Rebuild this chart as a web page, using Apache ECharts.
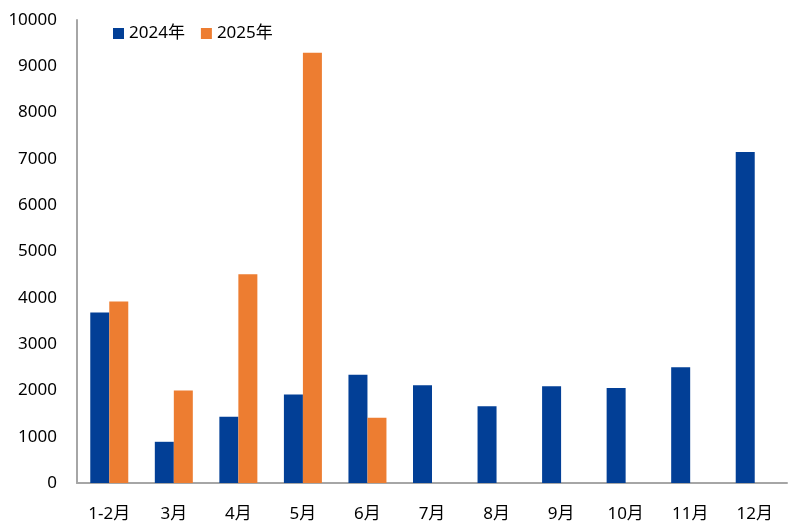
<!DOCTYPE html>
<html><head><meta charset="utf-8">
<script src="https://cdn.jsdelivr.net/npm/echarts@6/dist/echarts.min.js"></script>
<style>html,body{margin:0;padding:0;background:#fff}#c{width:797px;height:532px}</style>
</head><body><div id="c"></div>
<script>
const categories = ['1-2月','3月','4月','5月','6月','7月','8月','9月','10月','11月','12月'];
const seriesNames = ['2024年','2025年'];
const values2024 = [3680, 890, 1430, 1910, 2340, 2110, 1660, 2090, 2050, 2500, 7150];
const values2025 = [3920, 2000, 4510, 9290, 1410, null, null, null, null, null, null];
const yTicks = {min: 0, max: 10000, interval: 1000};

const chart = echarts.init(document.getElementById('c'));
const font = '"Noto Sans", "Noto Sans CJK SC", sans-serif';
chart.setOption({
  animation: false,
  textStyle: {fontFamily: font},
  grid: {left: 77, right: 10, top: 20, bottom: 49, containLabel: false},
  legend: {
    left: 108, top: 20, itemWidth: 11, itemHeight: 11, itemGap: 16,
    icon: 'rect',
    textStyle: {fontSize: 17, color: '#000', fontFamily: font, padding: [0,0,0,0]},
    data: seriesNames
  },
  xAxis: {
    type: 'category', data: categories,
    axisLine: {lineStyle: {color: '#a6a6a6', width: 2}},
    axisTick: {show: false},
    axisLabel: {color: '#000', fontSize: 17, margin: 23, fontFamily: font}
  },
  yAxis: {
    type: 'value', min: yTicks.min, max: yTicks.max, interval: yTicks.interval,
    axisLine: {show: true, lineStyle: {color: '#a6a6a6', width: 2}},
    axisTick: {show: false},
    splitLine: {show: false},
    axisLabel: {color: '#000', fontSize: 17, margin: 20, fontFamily: font, formatter: v => String(v)}
  },
  series: [
    {name: seriesNames[0], type: 'bar', data: values2024, barWidth: 19, barGap: '0%', itemStyle: {color: '#023f96'}},
    {name: seriesNames[1], type: 'bar', data: values2025, barWidth: 19, itemStyle: {color: '#ed7d31'}}
  ]
});
</script></body></html>
